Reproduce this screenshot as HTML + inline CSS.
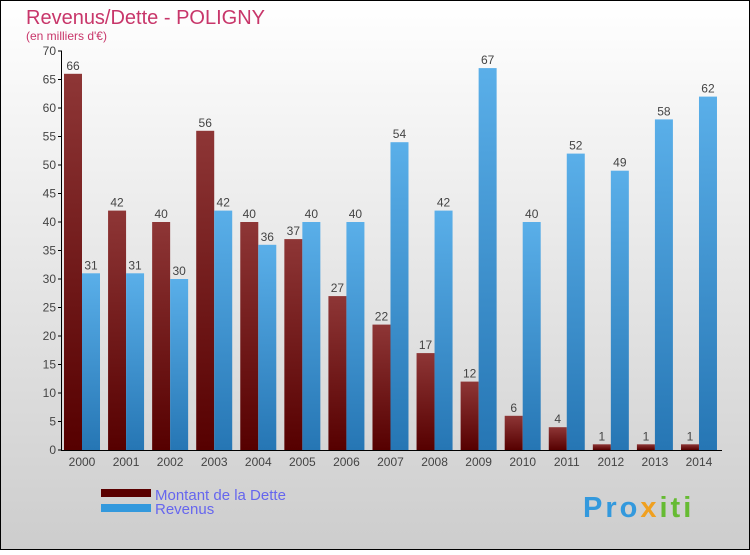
<!DOCTYPE html>
<html><head><meta charset="utf-8"><style>
body{margin:0;width:750px;height:550px;overflow:hidden;font-family:"Liberation Sans",sans-serif}
</style></head><body>
<svg width="750" height="550" xmlns="http://www.w3.org/2000/svg">
<defs>
<linearGradient id="bg" x1="0" y1="0" x2="0" y2="1"><stop offset="0" stop-color="#ffffff"/><stop offset="1" stop-color="#cdcdcd"/></linearGradient>
<linearGradient id="gd" x1="0" y1="0" x2="0" y2="1"><stop offset="0" stop-color="#8e3636"/><stop offset="1" stop-color="#560000"/></linearGradient>
<linearGradient id="gr" x1="0" y1="0" x2="0" y2="1"><stop offset="0" stop-color="#5aafe9"/><stop offset="1" stop-color="#2676b4"/></linearGradient>
</defs>
<rect x="0.5" y="0.5" width="749" height="549" fill="url(#bg)" stroke="#000"/>
<text x="26" y="24" font-size="20" fill="#c8366a">Revenus/Dette - POLIGNY</text>
<text x="26" y="40" font-size="12" fill="#c8366a">(en milliers d'€)</text>
<g id="axes"></g>
<g id="bars"></g>
<g>
<rect x="101" y="489" width="50" height="8" fill="#5a0000"/>
<text x="155" y="500" font-size="15" fill="#6666ee">Montant de la Dette</text>
<rect x="101" y="504" width="50" height="8" fill="#3399dd"/>
<text x="155" y="514" font-size="15" fill="#6666ee">Revenus</text>
</g>
<text x="583" y="517" font-size="29" font-weight="bold" letter-spacing="3" fill="#3399dd">Pro<tspan fill="#f0a020">x</tspan><tspan fill="#66bb33">iti</tspan></text>
</svg>
<script>
const years=["2000","2001","2002","2003","2004","2005","2006","2007","2008","2009","2010","2011","2012","2013","2014"];
const dette=[66,42,40,56,40,37,27,22,17,12,6,4,1,1,1];
const revenus=[31,31,30,42,36,40,40,54,42,67,40,52,49,58,62];
const yTicks=[0,5,10,15,20,25,30,35,40,45,50,55,60,65,70];
const NS="http://www.w3.org/2000/svg";
const y0=450,yTop=51,yMax=70,x0=62,gw=44.07;
const Y=v=>y0-(v/yMax)*(y0-yTop);
const X=i=>x0+i*gw;
function mk(t,a,p){const e=document.createElementNS(NS,t);for(const k in a)e.setAttribute(k,a[k]);p.appendChild(e);return e;}
const ax=document.getElementById('axes'),bg=document.getElementById('bars');
const yl=mk('line',{x1:61.5,y1:yTop,x2:61.5,y2:y0,stroke:'#000'},ax);


const xl=mk('line',{x1:61,y1:y0+0.5,x2:722,y2:y0+0.5,stroke:'#000'},ax);


yTicks.forEach(v=>{
 mk('line',{x1:58,y1:Y(v),x2:62,y2:Y(v),stroke:'#000'},ax);
 const t=mk('text',{x:56,y:Y(v)+4,'font-size':12,fill:'#444','text-anchor':'end'},ax);t.textContent=v;
 
 
});
years.forEach((yr,i)=>{
 const gx=X(i);
 const t=mk('text',{x:gx+20,y:466,'font-size':12,fill:'#444','text-anchor':'middle'},ax);t.textContent=yr;
 
 
 const b1=mk('rect',{x:gx+2,y:Y(dette[i]),width:18,height:y0-Y(dette[i]),fill:'url(#gd)'},bg);
 
 
 const l1=mk('text',{x:gx+11,y:Y(dette[i])-4,'font-size':12,fill:'#444','text-anchor':'middle'},bg);l1.textContent=dette[i];
 
 
 const b2=mk('rect',{x:gx+20,y:Y(revenus[i]),width:18,height:y0-Y(revenus[i]),fill:'url(#gr)'},bg);
 
 
 const l2=mk('text',{x:gx+29,y:Y(revenus[i])-4,'font-size':12,fill:'#444','text-anchor':'middle'},bg);l2.textContent=revenus[i];
 
 
});
</script>
</body></html>
